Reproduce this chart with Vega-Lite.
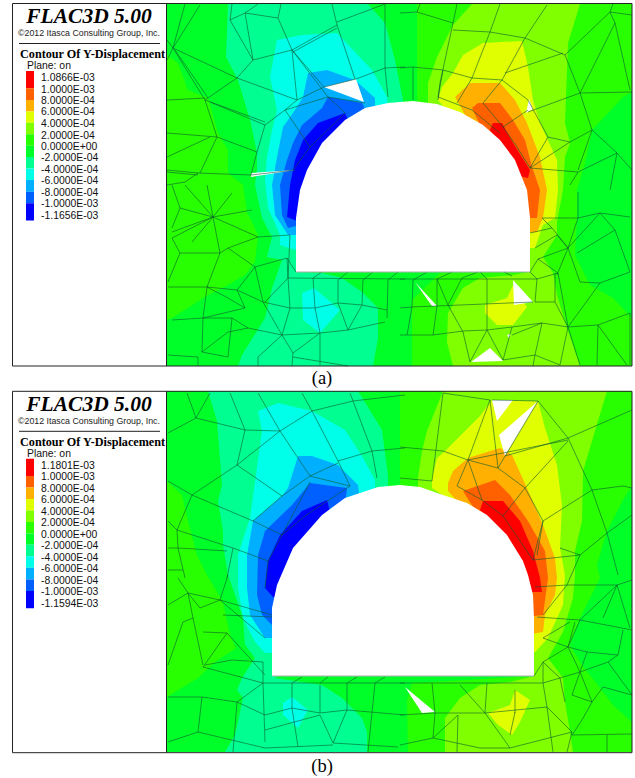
{"$schema":"https://vega.github.io/schema/vega-lite/v6.json","width":635,"height":778,"padding":0,"autosize":{"type":"fit","contains":"padding"},"background":"white","view":{"stroke":null},
"projection":{"type":"identity","scale":1,"translate":[0,0]},
"datasets":{
"bands":[
{"type":"Feature","properties":{"band":"p2"},"geometry":{"type":"Polygon","coordinates":[[[167,4],[632,4],[632,366],[167,366],[167,4]]]}},
{"type":"Feature","properties":{"band":"p1"},"geometry":{"type":"Polygon","coordinates":[[[167,55],[178,63],[188,90],[208,98],[218,133],[228,150],[228,173],[243,185],[247,212],[258,235],[255,262],[245,275],[228,285],[208,295],[172,318],[167,320],[167,55]]]}},
{"type":"Feature","properties":{"band":"p1"},"geometry":{"type":"Polygon","coordinates":[[[417,4],[632,4],[632,366],[412,366],[412,300],[440,273],[530,272],[500,200],[417,110],[417,4]]]}},
{"type":"Feature","properties":{"band":"p2"},"geometry":{"type":"Polygon","coordinates":[[[632,92],[623,97],[592,130],[585,163],[577,190],[577,218],[575,255],[590,285],[613,298],[632,318],[632,92]]]}},
{"type":"Feature","properties":{"band":"n1"},"geometry":{"type":"Polygon","coordinates":[[[228,4],[368,4],[385,23],[395,60],[403,100],[403,110],[403,260],[300,268],[297,272],[322,273],[342,278],[362,292],[378,308],[378,338],[373,366],[238,366],[242,355],[265,318],[272,288],[282,260],[267,257],[272,237],[262,218],[255,185],[257,170],[257,153],[250,120],[238,80],[226,57],[228,4]]]}},
{"type":"Feature","properties":{"band":"n2"},"geometry":{"type":"Polygon","coordinates":[[[277,40],[302,35],[337,33],[372,70],[387,97],[388,110],[300,240],[295,250],[280,245],[280,235],[268,208],[265,180],[267,157],[272,130],[277,110],[270,77],[277,40]]]}},
{"type":"Feature","properties":{"band":"n3"},"geometry":{"type":"Polygon","coordinates":[[[308,73],[327,70],[355,80],[375,98],[375,115],[300,235],[288,235],[275,215],[272,185],[277,157],[283,127],[293,113],[303,97],[308,73]]]}},
{"type":"Feature","properties":{"band":"n4"},"geometry":{"type":"Polygon","coordinates":[[[328,97],[362,103],[368,115],[300,225],[288,228],[282,215],[280,185],[287,160],[293,143],[302,125],[322,108],[328,97]]]}},
{"type":"Feature","properties":{"band":"n5"},"geometry":{"type":"Polygon","coordinates":[[[345,113],[350,125],[300,222],[287,217],[290,185],[295,160],[303,140],[318,123],[345,113]]]}},
{"type":"Feature","properties":{"band":"n2"},"geometry":{"type":"Polygon","coordinates":[[[302,293],[314,288],[340,310],[320,333],[303,320],[302,293]]]}},
{"type":"Feature","properties":{"band":"p3"},"geometry":{"type":"Polygon","coordinates":[[[472,4],[580,4],[568,43],[565,123],[570,143],[565,157],[563,190],[557,222],[557,235],[543,257],[553,273],[557,295],[567,328],[580,366],[453,366],[447,342],[448,313],[463,288],[480,278],[513,275],[530,272],[500,200],[428,110],[428,83],[437,57],[453,25],[472,4]]]}},
{"type":"Feature","properties":{"band":"p4"},"geometry":{"type":"Polygon","coordinates":[[[463,55],[483,43],[522,41],[528,67],[533,100],[540,123],[557,160],[558,190],[555,218],[543,225],[535,248],[525,248],[450,115],[438,100],[442,87],[453,73],[463,55]]]}},
{"type":"Feature","properties":{"band":"p5"},"geometry":{"type":"Polygon","coordinates":[[[455,97],[470,83],[500,83],[515,100],[527,123],[540,157],[547,190],[543,218],[537,232],[525,233],[465,115],[455,97]]]}},
{"type":"Feature","properties":{"band":"p6"},"geometry":{"type":"Polygon","coordinates":[[[472,108],[478,103],[500,103],[513,120],[525,140],[532,167],[540,190],[537,218],[525,218],[480,125],[472,108]]]}},
{"type":"Feature","properties":{"band":"p7"},"geometry":{"type":"Polygon","coordinates":[[[493,123],[502,123],[513,143],[530,170],[528,178],[515,175],[490,130],[493,123]]]}},
{"type":"Feature","properties":{"band":"p4"},"geometry":{"type":"Polygon","coordinates":[[[513,285],[507,298],[485,305],[485,313],[497,325],[513,325],[527,307],[514,290],[513,285]]]}},
{"type":"Feature","properties":{"band":"void"},"geometry":{"type":"Polygon","coordinates":[[[324,87],[356,79],[364,102],[324,87]]]}},
{"type":"Feature","properties":{"band":"void"},"geometry":{"type":"Polygon","coordinates":[[[251,173],[295,170],[251,177],[251,173]]]}},
{"type":"Feature","properties":{"band":"void"},"geometry":{"type":"Polygon","coordinates":[[[529,99],[533,109],[526,113],[529,99]]]}},
{"type":"Feature","properties":{"band":"void"},"geometry":{"type":"Polygon","coordinates":[[[415,282],[437,306],[432,306],[415,282]]]}},
{"type":"Feature","properties":{"band":"void"},"geometry":{"type":"Polygon","coordinates":[[[513,280],[533,302],[514,305],[513,280]]]}},
{"type":"Feature","properties":{"band":"void"},"geometry":{"type":"Polygon","coordinates":[[[490,348],[503,361],[471,362],[490,348]]]}},
{"type":"Feature","properties":{"band":"void"},"geometry":{"type":"Polygon","coordinates":[[[507,335],[511,334],[509,338],[507,335]]]}},
{"type":"Feature","properties":{"band":"void"},"geometry":{"type":"Polygon","coordinates":[[[296,272],[296,218],[300,190],[307,170],[322,143],[345,120],[365,108],[388,103],[400,102],[413,101],[437,104],[460,112],[483,125],[500,140],[515,160],[527,190],[530,218],[530,272],[296,272]]]}},

{"type":"Feature","properties":{"band":"p2"},"geometry":{"type":"Polygon","coordinates":[[[167,391],[632,391],[632,752],[167,752],[167,391]]]}},
{"type":"Feature","properties":{"band":"p1"},"geometry":{"type":"Polygon","coordinates":[[[167,481],[182,495],[188,521],[197,555],[207,575],[223,602],[230,635],[236,648],[215,662],[198,678],[167,697],[167,481]]]}},
{"type":"Feature","properties":{"band":"p1"},"geometry":{"type":"Polygon","coordinates":[[[400,391],[632,391],[632,752],[408,752],[407,700],[412,683],[534,676],[500,600],[400,500],[400,391]]]}},
{"type":"Feature","properties":{"band":"p2"},"geometry":{"type":"Polygon","coordinates":[[[632,486],[623,500],[607,531],[597,565],[600,578],[580,618],[570,645],[582,665],[600,688],[613,705],[632,722],[632,486]]]}},
{"type":"Feature","properties":{"band":"n1"},"geometry":{"type":"Polygon","coordinates":[[[208,391],[358,391],[382,430],[388,476],[388,500],[300,660],[275,678],[322,685],[342,698],[362,718],[367,732],[367,752],[225,752],[235,735],[243,698],[237,690],[242,678],[255,658],[245,645],[243,618],[228,575],[223,545],[223,531],[218,501],[222,485],[217,421],[208,391]]]}},
{"type":"Feature","properties":{"band":"n2"},"geometry":{"type":"Polygon","coordinates":[[[258,411],[278,403],[312,411],[345,430],[362,456],[375,480],[375,500],[285,653],[272,653],[265,653],[255,642],[243,618],[238,588],[238,555],[250,518],[262,431],[258,411]]]}},
{"type":"Feature","properties":{"band":"n3"},"geometry":{"type":"Polygon","coordinates":[[[298,456],[312,456],[338,465],[358,485],[360,500],[285,638],[265,638],[250,615],[247,588],[247,555],[253,521],[282,496],[288,488],[298,456]]]}},
{"type":"Feature","properties":{"band":"n4"},"geometry":{"type":"Polygon","coordinates":[[[310,483],[347,488],[345,505],[285,625],[272,625],[262,615],[257,595],[258,555],[265,531],[292,505],[310,483]]]}},
{"type":"Feature","properties":{"band":"n5"},"geometry":{"type":"Polygon","coordinates":[[[327,500],[330,512],[285,597],[273,597],[265,588],[268,561],[280,535],[302,511],[327,500]]]}},
{"type":"Feature","properties":{"band":"n2"},"geometry":{"type":"Polygon","coordinates":[[[292,697],[308,710],[298,728],[283,715],[283,703],[292,697]]]}},
{"type":"Feature","properties":{"band":"p3"},"geometry":{"type":"Polygon","coordinates":[[[443,391],[607,391],[595,431],[583,471],[582,521],[575,551],[575,575],[573,598],[563,632],[548,658],[563,678],[565,702],[570,732],[573,752],[445,752],[445,718],[460,698],[480,685],[510,682],[534,676],[500,600],[418,495],[418,478],[422,451],[427,431],[443,391]]]}},
{"type":"Feature","properties":{"band":"p4"},"geometry":{"type":"Polygon","coordinates":[[[492,400],[538,401],[545,428],[557,465],[562,505],[560,548],[565,575],[563,605],[548,638],[535,652],[525,652],[450,500],[432,488],[432,478],[437,458],[443,453],[480,416],[492,400]]]}},
{"type":"Feature","properties":{"band":"p5"},"geometry":{"type":"Polygon","coordinates":[[[448,483],[453,471],[468,458],[500,448],[512,455],[527,488],[543,525],[555,558],[557,578],[555,595],[545,615],[543,632],[525,635],[465,510],[448,491],[448,483]]]}},
{"type":"Feature","properties":{"band":"p6"},"geometry":{"type":"Polygon","coordinates":[[[463,491],[495,480],[510,495],[528,521],[545,551],[548,578],[543,615],[525,617],[475,510],[463,491]]]}},
{"type":"Feature","properties":{"band":"p7"},"geometry":{"type":"Polygon","coordinates":[[[483,501],[503,501],[520,521],[533,551],[540,578],[542,592],[525,592],[480,510],[483,501]]]}},
{"type":"Feature","properties":{"band":"p4"},"geometry":{"type":"Polygon","coordinates":[[[515,690],[530,700],[520,722],[512,735],[498,725],[488,713],[510,705],[515,690]]]}},
{"type":"Feature","properties":{"band":"void"},"geometry":{"type":"Polygon","coordinates":[[[492,400],[513,400],[497,421],[492,400]]]}},
{"type":"Feature","properties":{"band":"void"},"geometry":{"type":"Polygon","coordinates":[[[538,401],[505,456],[499,435],[538,401]]]}},
{"type":"Feature","properties":{"band":"void"},"geometry":{"type":"Polygon","coordinates":[[[405,687],[435,712],[422,713],[405,687]]]}},
{"type":"Feature","properties":{"band":"void"},"geometry":{"type":"Polygon","coordinates":[[[272,676],[272,608],[277,585],[280,578],[293,548],[322,515],[345,498],[378,487],[400,485],[420,487],[443,495],[467,503],[487,515],[507,535],[523,561],[528,575],[533,595],[534,618],[534,676],[272,676]]]}}
],
"swatches":[
{"type":"Feature","properties":{"band":"p7"},"geometry":{"type":"MultiPolygon","coordinates":[[[[26,71],[34,71],[34,88.3],[26,88.3],[26,71]]],[[[26,458.7],[34,458.7],[34,476],[26,476],[26,458.7]]]]}},
{"type":"Feature","properties":{"band":"p6"},"geometry":{"type":"MultiPolygon","coordinates":[[[[26,88.3],[34,88.3],[34,100],[26,100],[26,88.3]]],[[[26,476],[34,476],[34,487.6],[26,487.6],[26,476]]]]}},
{"type":"Feature","properties":{"band":"p5"},"geometry":{"type":"MultiPolygon","coordinates":[[[[26,100],[34,100],[34,111.5],[26,111.5],[26,100]]],[[[26,487.6],[34,487.6],[34,499.1],[26,499.1],[26,487.6]]]]}},
{"type":"Feature","properties":{"band":"p4"},"geometry":{"type":"MultiPolygon","coordinates":[[[[26,111.5],[34,111.5],[34,122.8],[26,122.8],[26,111.5]]],[[[26,499.1],[34,499.1],[34,510.5],[26,510.5],[26,499.1]]]]}},
{"type":"Feature","properties":{"band":"p3"},"geometry":{"type":"MultiPolygon","coordinates":[[[[26,122.8],[34,122.8],[34,134.3],[26,134.3],[26,122.8]]],[[[26,510.5],[34,510.5],[34,522],[26,522],[26,510.5]]]]}},
{"type":"Feature","properties":{"band":"p1"},"geometry":{"type":"MultiPolygon","coordinates":[[[[26,134.3],[34,134.3],[34,145.7],[26,145.7],[26,134.3]]],[[[26,522],[34,522],[34,533.4],[26,533.4],[26,522]]]]}},
{"type":"Feature","properties":{"band":"p2"},"geometry":{"type":"MultiPolygon","coordinates":[[[[26,145.7],[34,145.7],[34,157],[26,157],[26,145.7]]],[[[26,533.4],[34,533.4],[34,544.7],[26,544.7],[26,533.4]]]]}},
{"type":"Feature","properties":{"band":"n1"},"geometry":{"type":"MultiPolygon","coordinates":[[[[26,157],[34,157],[34,168.5],[26,168.5],[26,157]]],[[[26,544.7],[34,544.7],[34,556.2],[26,556.2],[26,544.7]]]]}},
{"type":"Feature","properties":{"band":"n2"},"geometry":{"type":"MultiPolygon","coordinates":[[[[26,168.5],[34,168.5],[34,180],[26,180],[26,168.5]]],[[[26,556.2],[34,556.2],[34,567.7],[26,567.7],[26,556.2]]]]}},
{"type":"Feature","properties":{"band":"n3"},"geometry":{"type":"MultiPolygon","coordinates":[[[[26,180],[34,180],[34,191.7],[26,191.7],[26,180]]],[[[26,567.7],[34,567.7],[34,579.4],[26,579.4],[26,567.7]]]]}},
{"type":"Feature","properties":{"band":"n4"},"geometry":{"type":"MultiPolygon","coordinates":[[[[26,191.7],[34,191.7],[34,203.3],[26,203.3],[26,191.7]]],[[[26,579.4],[34,579.4],[34,591],[26,591],[26,579.4]]]]}},
{"type":"Feature","properties":{"band":"n5"},"geometry":{"type":"MultiPolygon","coordinates":[[[[26,203.3],[34,203.3],[34,220.5],[26,220.5],[26,203.3]]],[[[26,591],[34,591],[34,608.2],[26,608.2],[26,591]]]]}}
],
"mesh":[
{"type":"Feature","properties":{"panel":"a"},"geometry":{"type":"MultiLineString","coordinates":[
[[173,48],[200,5]],[[173,48],[167,40]],[[173,48],[167,60]],[[173,48],[185,4]],[[173,48],[205,100]],[[175,50],[208,98]],[[173,48],[237,78]],[[205,100],[237,78]],[[237,78],[253,60]],[[253,60],[245,13]],[[232,4],[230,20]],[[230,20],[253,60]],[[230,20],[245,13]],[[245,13],[258,4]],[[245,13],[278,18]],[[278,18],[292,50]],[[278,18],[281,4]],[[253,60],[292,50]],[[292,50],[337,25]],[[293,52],[337,28]],[[337,25],[332,4]],[[337,22],[385,4]],[[337,25],[355,79]],[[292,50],[324,87]],[[292,50],[328,97]],[[292,50],[297,100]],[[237,78],[297,100]],[[297,100],[324,87]],[[324,87],[356,79]],[[356,79],[385,68]],[[385,68],[405,67]],[[385,4],[385,68]],[[385,68],[388,97]],[[297,100],[285,110]],[[265,125],[210,102]],[[265,122],[205,100]],[[265,125],[257,152]],[[265,125],[285,110]],[[285,110],[328,97]],[[328,97],[365,103]],[[328,97],[345,113]],[[285,110],[310,147]],[[310,147],[345,113]],[[310,147],[293,170]],[[205,100],[217,137]],[[217,137],[200,173]],[[217,137],[257,152]],[[167,100],[205,98]],[[167,133],[217,137]],[[167,157],[210,137]],[[198,173],[167,170]],[[198,173],[251,175]],[[257,152],[251,175]],[[198,173],[185,182]],[[251,175],[295,170]],[[167,172],[198,175]],[[167,185],[185,182]],
[[417,12],[420,4]],[[400,13],[417,12]],[[417,12],[453,23]],[[457,4],[453,23]],[[453,23],[440,83]],[[440,83],[438,100]],[[453,30],[490,32]],[[500,4],[490,32]],[[490,32],[472,78]],[[490,32],[525,38]],[[525,38],[547,5]],[[525,38],[565,55]],[[565,55],[610,12]],[[610,12],[613,4]],[[610,12],[632,15]],[[610,12],[615,23]],[[615,23],[630,90]],[[615,23],[580,93]],[[565,55],[580,93]],[[580,93],[592,130]],[[580,93],[632,92]],[[580,93],[528,112]],[[592,130],[570,142]],[[570,142],[548,137]],[[548,137],[528,100]],[[592,130],[617,153]],[[592,130],[578,170]],[[548,137],[530,168]],[[570,142],[530,168]],[[525,38],[502,80]],[[502,80],[472,78]],[[505,73],[563,53]],[[502,80],[528,100]],[[502,80],[483,103]],[[483,103],[503,127]],[[400,68],[413,67],[443,70],[472,78]],[[472,78],[457,103]],[[438,97],[472,110]],[[472,110],[500,133]],[[413,67],[413,100]],[[443,70],[438,97]],[[503,127],[528,110]],[[503,127],[517,147]],[[517,147],[530,168]],[[530,168],[578,172]],[[578,172],[617,153]],[[617,153],[632,170]],[[617,153],[610,190]],[[578,172],[570,185]],
[[213,217],[185,185]],[[213,217],[207,185]],[[213,217],[232,193]],[[213,217],[252,210]],[[213,217],[258,237]],[[213,217],[220,253]],[[213,217],[172,232]],[[213,217],[172,238]],[[213,217],[192,242]],[[213,217],[180,208]],[[172,228],[180,208]],[[180,208],[172,185]],[[172,238],[180,253]],[[180,253],[220,253]],[[220,253],[207,287]],[[258,237],[228,248]],[[228,248],[220,253]],[[228,248],[255,267]],[[255,267],[263,302]],[[255,267],[287,258]],[[287,258],[296,272]],[[287,258],[288,278]],[[258,237],[290,235]],[[290,235],[288,278]],[[288,278],[265,302]],[[288,278],[290,308]],[[180,253],[168,282]],[[207,287],[168,287]],[[207,287],[228,298]],[[207,287],[203,318]],[[228,298],[245,308]],[[237,290],[263,302]],[[255,267],[237,290]],[[207,287],[237,290]],[[237,290],[245,308]],[[263,302],[290,308]],[[290,308],[282,335]],[[263,302],[282,335]],[[290,308],[315,308]],[[315,308],[338,303]],[[338,303],[362,305]],[[362,305],[387,310]],[[313,278],[315,308]],[[288,278],[405,279]],[[338,280],[338,303]],[[363,280],[362,305]],[[388,280],[387,318]],[[322,272],[313,278]],[[348,272],[338,280]],[[373,272],[363,280]],[[398,272],[388,280]],[[315,308],[320,333]],[[320,333],[320,365]],[[282,335],[320,333]],[[320,333],[348,330]],[[348,330],[338,303]],[[348,330],[362,305]],[[348,330],[385,322]],[[320,333],[293,353]],[[293,353],[292,366]],[[293,353],[282,335]],[[293,357],[348,366]],[[282,335],[258,357]],[[258,357],[258,366]],[[282,335],[248,328]],[[248,328],[232,318]],[[203,318],[232,318]],[[203,318],[172,320]],[[203,318],[202,352]],[[202,352],[228,332]],[[228,332],[248,328]],[[202,352],[228,357]],[[232,318],[228,357]],[[198,357],[198,366]],[[168,355],[198,357]],[[245,308],[203,318]],
[[400,279],[537,279]],[[413,280],[427,272]],[[437,279],[452,272]],[[462,278],[478,272]],[[487,279],[480,272]],[[512,276],[504,272]],[[537,279],[558,273]],[[537,279],[530,272]],[[538,259],[530,272]],[[538,259],[558,273]],[[413,280],[412,307]],[[400,308],[412,307]],[[412,307],[407,335]],[[400,335],[433,335]],[[437,279],[448,305]],[[437,279],[437,306]],[[462,278],[448,305]],[[448,305],[463,332]],[[437,306],[433,335]],[[412,307],[533,302]],[[433,335],[463,331],[487,330],[512,327],[542,323]],[[463,332],[470,362]],[[487,330],[470,362]],[[487,330],[503,360]],[[512,327],[503,360]],[[512,335],[542,323]],[[487,279],[487,330]],[[537,279],[535,302]],[[535,302],[555,302]],[[555,273],[555,302]],[[555,302],[568,327]],[[558,273],[568,327]],[[568,327],[542,323]],[[568,327],[598,325]],[[598,325],[630,313]],[[568,327],[600,283]],[[568,248],[557,275]],[[568,248],[580,282]],[[580,282],[600,283]],[[600,283],[630,272]],[[568,248],[600,213]],[[600,213],[615,230]],[[615,230],[630,272]],[[615,230],[577,253]],[[600,213],[578,218]],[[578,192],[578,218]],[[578,218],[568,248]],[[600,213],[630,217]],[[552,228],[530,233]],[[552,228],[568,248]],[[542,218],[578,218]],[[552,228],[542,218]],[[568,327],[560,365]],[[568,327],[580,365]],[[542,323],[535,355]],[[535,355],[503,360]],[[535,355],[560,365]],[[535,355],[533,366]],[[598,325],[597,365]],[[598,325],[627,365]],[[630,313],[630,365]],[[538,259],[568,248]],[[535,248],[557,235]],[[557,235],[568,248]]
]}},
{"type":"Feature","properties":{"panel":"b"},"geometry":{"type":"MultiLineString","coordinates":[
[[196,418],[187,393]],[[196,418],[210,393]],[[196,418],[168,433]],[[196,418],[245,430]],[[230,393],[245,430]],[[245,430],[237,465]],[[245,430],[280,431]],[[280,431],[312,411]],[[312,411],[353,401]],[[353,401],[405,395]],[[312,411],[302,393]],[[353,401],[350,393]],[[258,393],[280,431]],[[280,431],[237,465]],[[280,431],[310,476]],[[312,411],[338,461]],[[338,461],[350,486]],[[338,461],[372,451]],[[372,451],[405,448]],[[372,451],[377,478]],[[353,401],[372,451]],[[310,476],[338,463]],[[310,476],[282,496]],[[237,465],[282,496]],[[237,465],[192,495]],[[192,495],[168,481]],[[192,495],[253,521]],[[192,495],[177,530]],[[282,496],[253,521]],[[253,521],[282,535]],[[310,476],[350,486]],[[310,482],[282,535]],[[350,486],[305,516]],[[305,516],[282,535]],[[282,535],[268,561]],[[268,561],[233,548]],[[177,530],[233,548]],[[177,530],[168,521]],[[177,530],[178,548]],[[178,548],[227,551]],[[178,548],[185,578]],[[233,548],[227,578]],[[168,548],[178,548]],[[168,570],[183,570]],[[268,561],[265,588]],
[[400,447],[443,451]],[[443,451],[468,460]],[[400,478],[432,481]],[[443,393],[432,481]],[[490,400],[468,460]],[[490,400],[443,393]],[[492,400],[538,401]],[[468,460],[498,468]],[[498,468],[490,400]],[[498,468],[538,401]],[[468,460],[568,440]],[[505,456],[568,438]],[[538,401],[568,438]],[[568,438],[592,490]],[[568,438],[632,410]],[[592,490],[623,486]],[[592,490],[607,533]],[[607,533],[632,515]],[[607,533],[618,575]],[[592,490],[543,521]],[[525,488],[568,441]],[[498,468],[525,488]],[[525,488],[543,521]],[[468,460],[457,486]],[[457,486],[482,500]],[[468,460],[482,500]],[[525,488],[503,516]],[[503,516],[482,500]],[[503,516],[533,560]],[[543,521],[533,560]],[[533,560],[580,555]],[[543,521],[537,555]],[[580,555],[607,533]],[[560,548],[580,555]],[[580,555],[567,585]],[[632,488],[623,486]],
[[188,593],[220,600]],[[188,593],[200,608]],[[188,593],[193,618]],[[188,593],[168,605]],[[188,593],[178,578]],[[220,600],[200,608]],[[220,600],[228,575]],[[220,600],[272,615]],[[223,615],[272,617]],[[220,600],[265,638]],[[193,618],[183,622],[168,665]],[[193,618],[203,665]],[[203,632],[227,633]],[[227,633],[265,675]],[[227,633],[203,667]],[[203,667],[263,683]],[[205,665],[232,660],[263,662]],[[263,662],[263,683]],[[263,683],[405,683]],[[263,683],[237,702]],[[263,683],[265,742]],[[237,702],[233,752]],[[237,702],[202,697]],[[202,697],[198,732]],[[202,697],[168,697]],[[198,732],[168,742]],[[198,732],[265,748]],[[237,702],[265,715]],[[265,715],[292,708]],[[292,683],[292,708]],[[292,708],[320,713]],[[320,685],[320,713]],[[320,713],[347,710]],[[347,683],[347,710]],[[347,710],[405,715]],[[375,683],[368,752]],[[265,730],[320,715]],[[292,708],[298,747]],[[320,715],[333,743]],[[347,710],[333,743]],[[265,748],[333,745]],[[333,743],[398,747]],[[292,683],[302,677]],[[320,683],[328,677]],[[347,683],[357,677]],[[375,683],[385,677]],
[[400,683],[543,683]],[[543,683],[543,662]],[[543,662],[534,676]],[[543,683],[560,678]],[[543,662],[560,678]],[[432,683],[435,713]],[[400,715],[435,713]],[[435,713],[485,713]],[[485,713],[547,707]],[[460,685],[485,713]],[[487,683],[485,713]],[[485,713],[510,748]],[[435,713],[433,738]],[[458,715],[433,738]],[[433,738],[480,748]],[[400,745],[433,738]],[[480,748],[510,748]],[[510,748],[572,732]],[[458,715],[457,752]],[[515,690],[515,713]],[[515,712],[510,735]],[[547,707],[543,683]],[[547,707],[553,752]],[[547,707],[572,732]],[[560,678],[565,702]],[[560,678],[580,672]],[[580,672],[608,662]],[[608,662],[632,695]],[[580,672],[572,695]],[[580,672],[592,702]],[[592,702],[603,687]],[[603,687],[632,695]],[[592,702],[572,695]],[[592,702],[582,720]],[[572,735],[632,734]],[[572,735],[582,720]],[[607,735],[607,752]],[[568,647],[580,672]],[[568,647],[543,662]],[[543,638],[568,647]],[[568,647],[575,622]],[[543,638],[570,622]],[[537,617],[580,620]],[[580,620],[632,630]],[[580,620],[568,647]],[[568,647],[587,652]],[[587,652],[618,655]],[[618,655],[623,630]],[[618,655],[608,662]],[[587,652],[580,672]],[[580,620],[617,585]],[[617,585],[603,618]],[[617,585],[630,628]],[[617,585],[567,585]],[[535,587],[567,585]],[[567,585],[543,615]],[[617,585],[632,580]],[[572,732],[567,752]]
]}}
],
"frames":[
{"type":"Feature","geometry":{"type":"MultiLineString","coordinates":[[[12.5,3.5],[632,3.5],[632,366],[12.5,366],[12.5,3.5]],[[166.5,3.5],[166.5,366]],[[19,43.5],[160,43.5]],[[12.5,391.3],[632,391.3],[632,752.7],[12.5,752.7],[12.5,391.3]],[[166.5,391.3],[166.5,752.7]],[[19,431.3],[160,431.3]]]}}
],
"floors":[
{"type":"Feature","geometry":{"type":"MultiLineString","coordinates":[[[296,272],[530,272]],[[272,676],[534,676]]]}}
],
"labels":[
{"lon":41,"lat":78,"t":"1.0866E-03"},{"lon":41,"lat":89.6,"t":"1.0000E-03"},{"lon":41,"lat":101,"t":"8.0000E-04"},{"lon":41,"lat":112.3,"t":"6.0000E-04"},{"lon":41,"lat":124,"t":"4.0000E-04"},{"lon":41,"lat":135.5,"t":"2.0000E-04"},{"lon":41,"lat":147,"t":"0.0000E+00"},{"lon":41,"lat":158.3,"t":"-2.0000E-04"},{"lon":41,"lat":170,"t":"-4.0000E-04"},{"lon":41,"lat":181.3,"t":"-6.0000E-04"},{"lon":41,"lat":193,"t":"-8.0000E-04"},{"lon":41,"lat":204.3,"t":"-1.0000E-03"},{"lon":41,"lat":216,"t":"-1.1656E-03"},{"lon":27,"lat":66,"t":"Plane: on"},
{"lon":41,"lat":465.7,"t":"1.1801E-03"},{"lon":41,"lat":477.2,"t":"1.0000E-03"},{"lon":41,"lat":488.7,"t":"8.0000E-04"},{"lon":41,"lat":500,"t":"6.0000E-04"},{"lon":41,"lat":511.7,"t":"4.0000E-04"},{"lon":41,"lat":523.2,"t":"2.0000E-04"},{"lon":41,"lat":534.7,"t":"0.0000E+00"},{"lon":41,"lat":546,"t":"-2.0000E-04"},{"lon":41,"lat":557.7,"t":"-4.0000E-04"},{"lon":41,"lat":569,"t":"-6.0000E-04"},{"lon":41,"lat":580.7,"t":"-8.0000E-04"},{"lon":41,"lat":592,"t":"-1.0000E-03"},{"lon":41,"lat":603.7,"t":"-1.1594E-03"},{"lon":27,"lat":454,"t":"Plane: on"}
],
"heads":[{"lon":89,"lat":17,"t":"FLAC3D 5.00"},{"lon":89,"lat":404.5,"t":"FLAC3D 5.00"}],
"copy":[{"lon":89,"lat":33,"t":"©2012 Itasca Consulting Group, Inc."},{"lon":89,"lat":421,"t":"©2012 Itasca Consulting Group, Inc."}],
"subs":[{"lon":20,"lat":54,"t":"Contour Of Y-Displacement"},{"lon":20,"lat":442,"t":"Contour Of Y-Displacement"}],
"caps":[{"lon":322,"lat":378,"t":"(a)"},{"lon":322,"lat":766,"t":"(b)"}]
},
"layer":[
{"data":{"name":"bands"},"mark":{"type":"geoshape","strokeWidth":0},"encoding":{"color":{"field":"properties.band","type":"nominal","legend":null,"scale":{"domain":["p7","p6","p5","p4","p3","p1","p2","n1","n2","n3","n4","n5","void"],"range":["#ff0000","#ff6000","#ffb000","#e0ff00","#80ff00","#28ff00","#00ff28","#00ff90","#00ffe8","#00b0ff","#0060ff","#0000ff","#ffffff"]}}}},
{"data":{"name":"swatches"},"mark":{"type":"geoshape","strokeWidth":0},"encoding":{"color":{"field":"properties.band","type":"nominal","legend":null}}},
{"data":{"name":"mesh"},"mark":{"type":"geoshape","filled":false,"stroke":"#0a5a30","strokeWidth":0.7,"strokeOpacity":0.85},"encoding":{}},
{"data":{"name":"floors"},"mark":{"type":"geoshape","filled":false,"stroke":"#b0b0b0","strokeWidth":1.2},"encoding":{}},
{"data":{"name":"frames"},"mark":{"type":"geoshape","filled":false,"stroke":"#222222","strokeWidth":1},"encoding":{}},
{"data":{"name":"labels"},"mark":{"type":"text","font":"Liberation Sans","fontSize":10.4,"align":"left","baseline":"middle","fill":"#111111"},"encoding":{"longitude":{"field":"lon","type":"quantitative"},"latitude":{"field":"lat","type":"quantitative"},"text":{"field":"t"}}},
{"data":{"name":"heads"},"mark":{"type":"text","font":"Liberation Serif","fontSize":21.5,"fontStyle":"italic","fontWeight":"bold","align":"center","baseline":"middle","fill":"#000000"},"encoding":{"longitude":{"field":"lon","type":"quantitative"},"latitude":{"field":"lat","type":"quantitative"},"text":{"field":"t"}}},
{"data":{"name":"copy"},"mark":{"type":"text","font":"Liberation Sans","fontSize":8.8,"align":"center","baseline":"middle","fill":"#222222"},"encoding":{"longitude":{"field":"lon","type":"quantitative"},"latitude":{"field":"lat","type":"quantitative"},"text":{"field":"t"}}},
{"data":{"name":"subs"},"mark":{"type":"text","font":"Liberation Serif","fontSize":12.2,"fontWeight":"bold","align":"left","baseline":"middle","fill":"#000000"},"encoding":{"longitude":{"field":"lon","type":"quantitative"},"latitude":{"field":"lat","type":"quantitative"},"text":{"field":"t"}}},
{"data":{"name":"caps"},"mark":{"type":"text","font":"Liberation Serif","fontSize":18.5,"align":"center","baseline":"middle","fill":"#000000"},"encoding":{"longitude":{"field":"lon","type":"quantitative"},"latitude":{"field":"lat","type":"quantitative"},"text":{"field":"t"}}}
]}
